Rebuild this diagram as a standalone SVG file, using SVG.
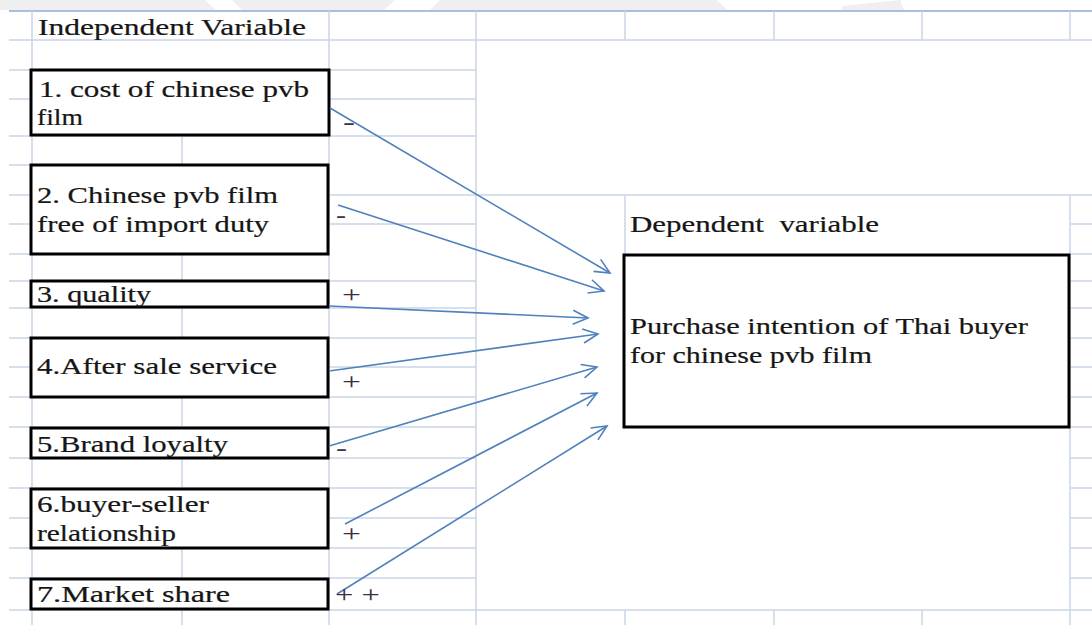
<svg xmlns="http://www.w3.org/2000/svg" width="1092" height="625" viewBox="0 0 1092 625">
  <style>
    .g { stroke: #cbd5e6; stroke-width: 1.5; fill: none; }
    .gt { stroke: #8eaad0; stroke-width: 1.5; fill: none; }
    .box { fill: #ffffff; stroke: #000000; stroke-width: 3; }
    .t { font-family: "Liberation Serif", "Times New Roman", serif; font-size: 23px; fill: #161616; stroke: #161616; stroke-width: 0.2; }
    .s { font-family: "Liberation Serif", "Times New Roman", serif; font-size: 23px; fill: #3a3040; }
    .c { stroke: #4f81bd; stroke-width: 1.6; fill: none; marker-end: url(#arr); }
    .wm { fill: #efefef; }
    .pre { white-space: pre; }
  </style>
  <defs>
    <marker id="arr" markerUnits="userSpaceOnUse" markerWidth="18" markerHeight="16" refX="16" refY="8" orient="auto">
      <path d="M1,1 L16,8 L1,15" fill="none" stroke="#4f81bd" stroke-width="1.6"/>
    </marker>
  </defs>
  <rect width="1092" height="625" fill="#ffffff"/>

  <g id="watermark">
    <polygon class="wm" points="0,0 205,0 216,10 0,10"/>
    <polygon class="wm" points="232,0 395,0 384,10 242,10"/>
    <polygon class="wm" points="440,0 717,0 727,10 430,10"/>
    <polygon class="wm" points="842,6 900,0 904,10 842,10"/>
  </g>

  <g id="grid">
    <line class="gt" x1="9" y1="11" x2="1092" y2="11"/>
    <line class="g" x1="9" y1="40" x2="1092" y2="40"/>
    <line class="g" x1="9" y1="195" x2="1092" y2="195"/>
    <line class="g" x1="9" y1="610" x2="1092" y2="610"/>
    <line class="g" x1="9" y1="70" x2="476" y2="70"/>
    <line class="g" x1="9" y1="99" x2="476" y2="99"/>
    <line class="g" x1="9" y1="136" x2="476" y2="136"/>
    <line class="g" x1="9" y1="165" x2="329" y2="165"/>
    <line class="g" x1="9" y1="224" x2="476" y2="224"/>
    <line class="g" x1="9" y1="254" x2="329" y2="254"/>
    <line class="g" x1="9" y1="281" x2="476" y2="281"/>
    <line class="g" x1="9" y1="308" x2="476" y2="308"/>
    <line class="g" x1="9" y1="338" x2="476" y2="338"/>
    <line class="g" x1="9" y1="367" x2="476" y2="367"/>
    <line class="g" x1="9" y1="397" x2="476" y2="397"/>
    <line class="g" x1="9" y1="427" x2="476" y2="427"/>
    <line class="g" x1="9" y1="458" x2="476" y2="458"/>
    <line class="g" x1="9" y1="488" x2="476" y2="488"/>
    <line class="g" x1="9" y1="518" x2="476" y2="518"/>
    <line class="g" x1="9" y1="548" x2="476" y2="548"/>
    <line class="g" x1="9" y1="578" x2="476" y2="578"/>
    <path class="g" d="M1070,224H1092 M1070,254H1092 M1070,281H1092 M1070,308H1092 M1070,338H1092 M1070,367H1092 M1070,397H1092 M1070,427H1092 M1070,458H1092 M1070,488H1092 M1070,518H1092 M1070,548H1092 M1070,578H1092"/>
    <line class="g" x1="32" y1="11" x2="32" y2="625"/>
    <line class="g" x1="182" y1="136" x2="182" y2="625"/>
    <line class="g" x1="329" y1="11" x2="329" y2="625"/>
    <line class="g" x1="476" y1="11" x2="476" y2="625"/>
    <path class="g" d="M625,11V40 M774,11V40 M922,11V40 M1070,11V40 M625,195V254 M625,610V625 M774,610V625 M922,610V625 M1070,195V625"/>
  </g>

  <g id="header-independent">
    <text class="t" x="38" y="35" textLength="268" lengthAdjust="spacingAndGlyphs">Independent Variable</text>
  </g>
  <g id="header-dependent">
    <text class="t pre" x="630" y="232" textLength="249" lengthAdjust="spacingAndGlyphs" xml:space="preserve">Dependent  variable</text>
  </g>

  <g id="node1">
    <rect class="box" x="31" y="70" width="298" height="65"/>
    <text class="t" x="39" y="97" textLength="270" lengthAdjust="spacingAndGlyphs">1. cost of chinese pvb</text>
    <text class="t" x="37" y="125" textLength="46" lengthAdjust="spacingAndGlyphs">film</text>
  </g>
  <g id="node2">
    <rect class="box" x="31" y="165" width="297" height="89"/>
    <text class="t" x="37" y="203" textLength="241" lengthAdjust="spacingAndGlyphs">2. Chinese pvb film</text>
    <text class="t" x="37" y="232" textLength="232" lengthAdjust="spacingAndGlyphs">free of import duty</text>
  </g>
  <g id="node3">
    <rect class="box" x="31" y="281" width="297" height="26"/>
    <text class="t" x="37" y="302" textLength="114" lengthAdjust="spacingAndGlyphs">3. quality</text>
  </g>
  <g id="node4">
    <rect class="box" x="31" y="338" width="297" height="59"/>
    <text class="t" x="37" y="374" textLength="240" lengthAdjust="spacingAndGlyphs">4.After sale service</text>
  </g>
  <g id="node5">
    <rect class="box" x="31" y="428" width="297" height="30"/>
    <text class="t" x="37" y="452" textLength="191" lengthAdjust="spacingAndGlyphs">5.Brand loyalty</text>
  </g>
  <g id="node6">
    <rect class="box" x="31" y="489" width="297" height="59"/>
    <text class="t" x="37" y="512" textLength="172" lengthAdjust="spacingAndGlyphs">6.buyer-seller</text>
    <text class="t" x="37" y="541" textLength="139" lengthAdjust="spacingAndGlyphs">relationship</text>
  </g>
  <g id="node7">
    <rect class="box" x="31" y="579" width="297" height="30"/>
    <text class="t" x="37" y="602" textLength="193" lengthAdjust="spacingAndGlyphs">7.Market share</text>
  </g>
  <g id="dependent">
    <rect class="box" x="624" y="255" width="445" height="172"/>
    <text class="t" x="630" y="334" textLength="398" lengthAdjust="spacingAndGlyphs">Purchase intention of Thai buyer</text>
    <text class="t" x="630" y="363" textLength="242" lengthAdjust="spacingAndGlyphs">for chinese pvb film</text>
  </g>

  <g id="connectors">
    <line class="c" x1="330" y1="108" x2="610" y2="273"/>
    <line class="c" x1="338" y1="205" x2="604" y2="291"/>
    <line class="c" x1="329" y1="306" x2="588" y2="318"/>
    <line class="c" x1="329" y1="371" x2="598" y2="334"/>
    <line class="c" x1="329" y1="446" x2="597" y2="367"/>
    <line class="c" x1="345" y1="524" x2="597" y2="393"/>
    <line class="c" x1="337" y1="594" x2="607" y2="426"/>
  </g>

  <g id="signs">
    <text class="s" x="343" y="130" textLength="12" lengthAdjust="spacingAndGlyphs">-</text>
    <text class="s" x="336" y="223" textLength="10" lengthAdjust="spacingAndGlyphs">-</text>
    <text class="s" x="342" y="302" textLength="19" lengthAdjust="spacingAndGlyphs">+</text>
    <text class="s" x="342" y="389" textLength="19" lengthAdjust="spacingAndGlyphs">+</text>
    <text class="s" x="336" y="456" textLength="11" lengthAdjust="spacingAndGlyphs">-</text>
    <text class="s" x="342" y="541" textLength="19" lengthAdjust="spacingAndGlyphs">+</text>
    <text class="s" x="335" y="602" textLength="45" lengthAdjust="spacingAndGlyphs">+ +</text>
  </g>
</svg>
